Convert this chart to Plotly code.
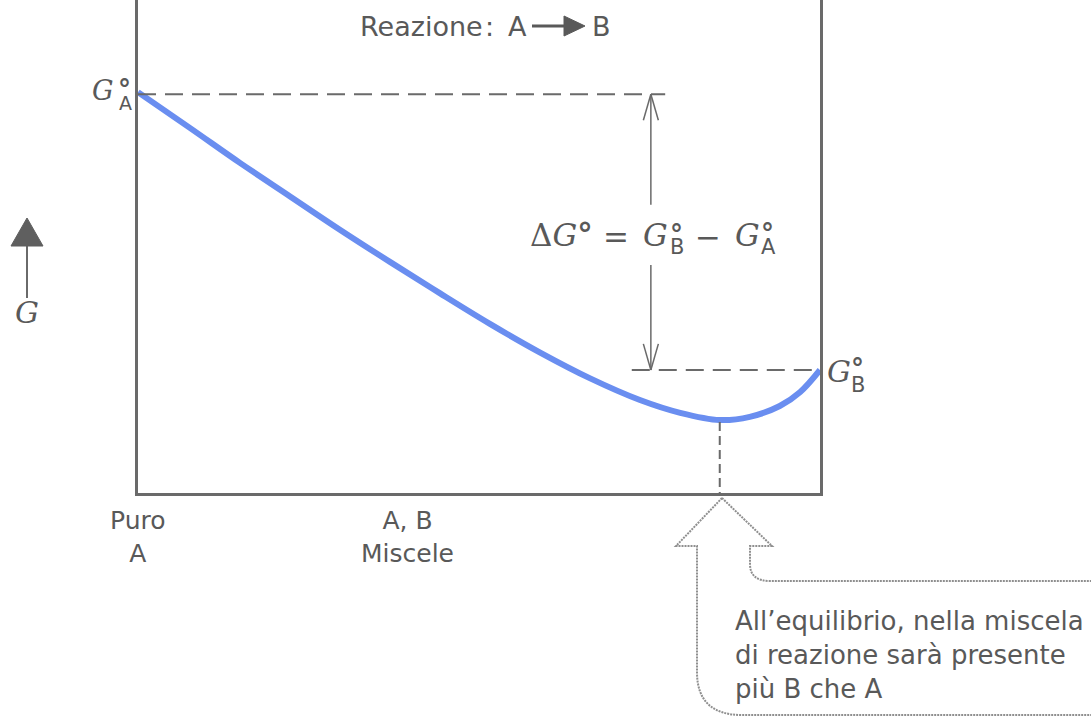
import plotly.graph_objects as go

# Free energy of an A/B reaction mixture versus composition
x_B = [0.0, 0.076, 0.150, 0.223, 0.296, 0.370, 0.443, 0.516, 0.589,
       0.663, 0.736, 0.795, 0.853, 0.897, 0.941, 0.971, 1.0]
G_mix = [100.0, 91.1, 82.3, 74.0, 65.7, 57.6, 49.8, 42.2, 35.1,
         28.6, 23.2, 20.0, 18.2, 19.0, 21.7, 25.2, 30.7]

G_A = 100.0          # standard free energy of pure A
G_B = 30.7           # standard free energy of pure B
x_eq = 0.853         # composition at the minimum
G_eq = 18.2          # free energy at the minimum

bottom_labels = ["Puro<br>A", "A, B<br>Miscele", "Puro<br>B"]
bottom_label_x = [0.0, 0.395, 1.007]

note_text = "All’equilibrio, nella miscela<br>di reazione sarà presente<br>più B che A"

# layout geometry (pixels)
W, H = 1091, 723
L, R, T, B = 138, 271, 0, 230
PW, PH = W - L - R, H - T - B
Y_MAX = 123.0

TEXT = "#595959"
LINE = "#6a6a6a"
SANS = "DejaVu Sans"
SERIF = "DejaVu Serif"


def px(xp):
    return (xp - L) / PW


def py(yp):
    return (T + PH - yp) / PH


fig = go.Figure()

fig.add_trace(go.Scatter(
    x=x_B, y=G_mix, mode="lines",
    line=dict(color="#6a8ef0", width=6, shape="spline", smoothing=1.0),
    hoverinfo="skip", showlegend=False,
))

shapes = []
# dashed reference levels
shapes.append(dict(type="line", xref="x", yref="y", x0=0, x1=0.773, y0=G_A - 0.5, y1=G_A - 0.5,
                   line=dict(color=LINE, width=2, dash="18px,9px")))
shapes.append(dict(type="line", xref="x", yref="y", x0=0.724, x1=1.0, y0=G_B, y1=G_B,
                   line=dict(color=LINE, width=2, dash="18px,9px")))
# dashed drop from the minimum
shapes.append(dict(type="line", xref="x", yref="y", x0=x_eq, x1=x_eq, y0=G_eq - 0.5, y1=0,
                   line=dict(color=LINE, width=2, dash="9px,5px")))

# double-headed arrow spanning the standard free-energy difference
xa = 0.752
gap_top, gap_bot = 71.9, 56.9
for y0, y1 in [(G_A - 0.5, gap_top), (gap_bot, G_B)]:
    shapes.append(dict(type="line", xref="x", yref="y", x0=xa, x1=xa, y0=y0, y1=y1,
                       line=dict(color=LINE, width=1.5)))
for tip, sgn in [(G_A - 0.5, -1), (G_B, 1)]:
    for dx in (-0.011, 0.011):
        shapes.append(dict(type="line", xref="x", yref="y", x0=xa, x1=xa + dx,
                           y0=tip, y1=tip + sgn * 6.5, line=dict(color=LINE, width=1.5)))

# G axis arrow on the left
shapes.append(dict(type="line", xref="paper", yref="paper", x0=px(27), x1=px(27),
                   y0=py(298), y1=py(240), line=dict(color=LINE, width=2)))
shapes.append(dict(type="path", xref="paper", yref="paper",
                   path=f"M {px(11)},{py(246)} L {px(43)},{py(246)} L {px(27)},{py(218)} Z",
                   fillcolor="#5f5f5f", line=dict(color="#5f5f5f", width=1)))

# reaction arrow in the title
shapes.append(dict(type="line", xref="paper", yref="paper", x0=px(532), x1=px(568),
                   y0=py(26), y1=py(26), line=dict(color=TEXT, width=3)))
shapes.append(dict(type="path", xref="paper", yref="paper",
                   path=f"M {px(564)},{py(16)} L {px(585)},{py(26)} L {px(564)},{py(36)} Z",
                   fillcolor=TEXT, line=dict(color=TEXT, width=1)))

# hollow arrow pointing at the equilibrium composition, flowing into the note box
outline = dict(color="#8f8f8f", width=2, dash="2px,1px")
left_path = (f"M {px(722)},{py(498)} L {px(676)},{py(546)} L {px(697)},{py(546)} "
             f"L {px(697)},{py(672)} Q {px(697)},{py(715)} {px(742)},{py(715)} L {px(1095)},{py(715)}")
right_path = (f"M {px(722)},{py(498)} L {px(772)},{py(546)} L {px(750)},{py(546)} "
              f"L {px(750)},{py(564)} Q {px(750)},{py(581)} {px(770)},{py(581)} L {px(1095)},{py(581)}")
for p in (left_path, right_path):
    shapes.append(dict(type="path", xref="paper", yref="paper", path=p, line=outline))

annotations = []


def label(text, xp, yp, size, font=SANS, color=TEXT, xanchor="center", align="center"):
    annotations.append(dict(text=text, x=px(xp), y=py(yp), xref="paper", yref="paper",
                            showarrow=False, xanchor=xanchor, yanchor="middle", align=align,
                            font=dict(family=font, size=size, color=color)))


def std_state(letter, xp, y_deg, y_sub, sub_size=21):
    # standard-state degree sign above its subscript letter
    label("<b>°</b>", xp - 1, y_deg + 6, 26)
    label(letter, xp, y_sub, sub_size)


# title
label("Reazione", 358, 26, 27, xanchor="left")
label(":", 489, 26, 27)
label("A", 517, 26, 27)
label("B", 601, 26, 27)

# G°A and G°B labels
label("<i>G</i>", 103, 91, 27, font=SERIF)
std_state("A", 125, 83, 103, 19)
label("<i>G</i>", 839, 371, 30, font=SERIF)
std_state("B", 858, 362, 385)

# ΔG° = G°B − G°A
label("Δ<i>G</i><b>°</b>", 561, 235, 31, font=SERIF)
label("=", 616, 237, 31, font=SERIF)
label("<i>G</i>", 655, 235, 31, font=SERIF)
std_state("B", 677, 228, 247)
label("−", 708, 237, 31, font=SERIF)
label("<i>G</i>", 747, 235, 31, font=SERIF)
std_state("A", 768, 227, 247)

# axis caption
label("<i>G</i>", 27, 312, 30, font=SERIF)

# composition labels under the axis
for t, xv in zip(bottom_labels, bottom_label_x):
    annotations.append(dict(text=t, x=xv, y=py(537), xref="x", yref="paper", showarrow=False,
                            xanchor="center", yanchor="middle", align="center",
                            font=dict(family=SANS, size=25, color=TEXT)))

# explanatory note
label(note_text, 733, 655, 26, xanchor="left", align="left")

fig.update_layout(
    width=W, height=H,
    margin=dict(l=L, r=R, t=T, b=B, pad=0),
    paper_bgcolor="white", plot_bgcolor="white",
    showlegend=False,
    shapes=shapes, annotations=annotations,
    xaxis=dict(range=[0, 1], showgrid=False, zeroline=False, showticklabels=False, ticks="",
               showline=True, linewidth=3, linecolor=LINE, mirror=False, fixedrange=True),
    yaxis=dict(range=[0, Y_MAX], showgrid=False, zeroline=False, showticklabels=False, ticks="",
               showline=True, linewidth=3, linecolor=LINE, mirror=True, fixedrange=True),
)

fig.write_html("out.html")
